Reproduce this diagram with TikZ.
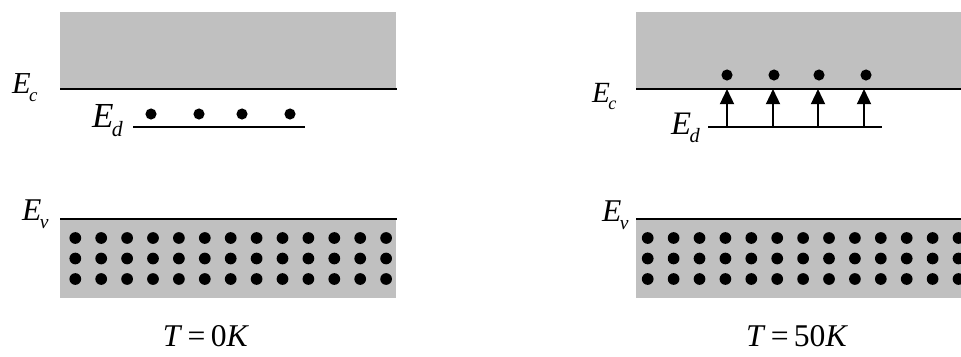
\documentclass[tikz,border=0pt]{standalone}
\usepackage{fontspec}
\setmainfont{Liberation Serif}
\usetikzlibrary{arrows.meta, positioning, calc}
\definecolor{bandgray}{HTML}{C0C0C0}
\newcommand{\levlabel}[1]{E\kern-1.5pt\raisebox{-0.27em}{\scalebox{0.62}{#1}}}

\begin{document}
\begin{tikzpicture}[
    x=0.03cm, y=-0.03cm,
    band/.style={fill=bandgray, draw=none},
    level/.style={line width=1.7pt},
    electron/.style={
        circle, fill=black, inner sep=0pt, minimum size=9.5pt,
    },
    lbl/.style={
        font=\fontsize{#1}{#1}\selectfont\itshape,
        inner sep=0pt, anchor=base west,
    },
    templbl/.style={
        font=\fontsize{27}{32}\selectfont, inner sep=0pt,
    },
    up/.style={
        -{Triangle[length=13pt, width=12pt]}, line width=1.6pt,
    },
]
\useasboundingbox (0,0) rectangle (961,356);
\clip (0,0) rectangle (961,356);

% -- Left: T = 0K --
\fill[band] (60,12) rectangle (396,89);
\fill[band] (60,219) rectangle (396,298);
\draw[level] (60,89) -- (397,89);
\draw[level] (133,127) -- (305,127);
\draw[level] (60,219) -- (397,219);

\node[lbl=26] (ecL) at (12,93) {\levlabel{c}};
\node[lbl=30] (edL) at (92,127) {\levlabel{d}};
\node[lbl=27] (evL) at (22,220) {\levlabel{v}};

\foreach \x [count=\k] in {151,199,242,290}
    \node[electron] (dL\k) at (\x,114) {};

\foreach \y [count=\r] in {238,258.5,279}
    \foreach \i in {0,...,12}
        \node[electron, minimum size=10pt] (vL\r-\i) at (75.3+25.9*\i,\y) {};

\node[templbl] (tL) at (206,336) {\textit{T}\,=\,0\textit{K}};

% -- Right: T = 50K --
\fill[band] (636,12) rectangle (961,89);
\fill[band] (636,219) rectangle (961,298);
\draw[level] (636,89) -- (961,89);
\draw[level] (708,127) -- (882,127);
\draw[level] (636,219) -- (961,219);

\node[lbl=25] (ecR) at (592,102) {\levlabel{c}};
\node[lbl=28] (edR) at (671,134) {\levlabel{d}};
\node[lbl=27] (evR) at (602,221) {\levlabel{v}};

\foreach \x [count=\k] in {727,774,819,866}
    \node[electron] (dR\k) at (\x,75) {};

% -- excitation arrows --
\foreach \x [count=\k] in {727,773,818,864} {
    \coordinate (ed\k) at (\x,127);
    \coordinate (ec\k) at (\x,89);
    \draw[up] (ed\k) -- (ec\k);
}

\foreach \y [count=\r] in {238,258.5,279}
    \foreach \i in {0,...,12}
        \node[electron, minimum size=10pt] (vR\r-\i) at (647.7+25.9*\i,\y) {};

\node[templbl] (tR) at (797,336) {\textit{T}\,=\,50\textit{K}};

\end{tikzpicture}
\end{document}
